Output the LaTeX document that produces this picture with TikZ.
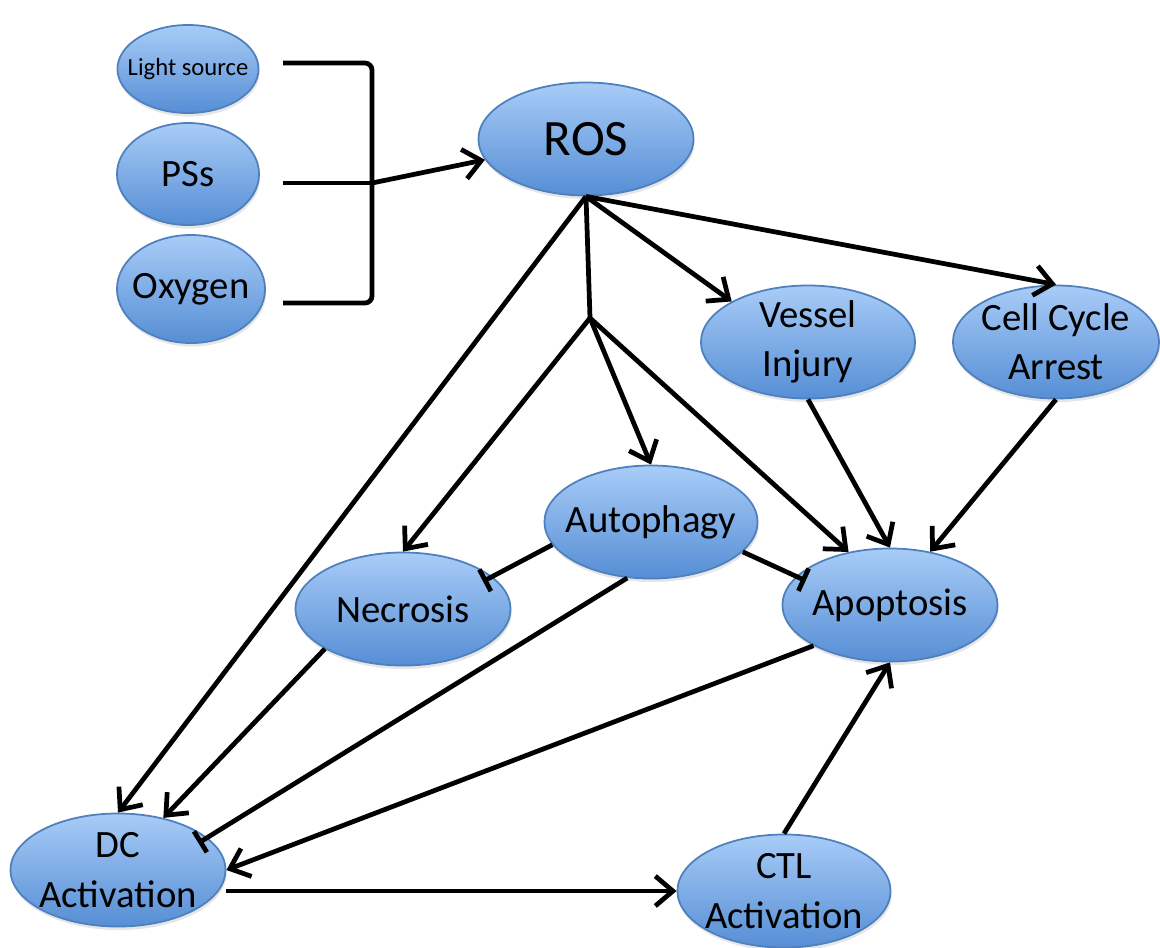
\documentclass[tikz,border=0pt]{standalone}
\usepackage{fontspec}
\setmainfont{Carlito}
\usetikzlibrary{shapes, arrows.meta, shadows}

\definecolor{bubbletop}{RGB}{168,204,247}
\definecolor{bubblebot}{RGB}{86,142,213}
\definecolor{bubbleline}{RGB}{78,128,190}

\begin{document}
\begin{tikzpicture}[
        x=0.01cm, y=-0.01cm,
        bubble/.style={ellipse, draw=bubbleline, line width=0.5pt,
            top color=bubbletop, bottom color=bubblebot, inner sep=0pt,
            minimum width=2.15cm, minimum height=1.13cm,
            drop shadow={opacity=0.2, shadow xshift=0.3pt, shadow yshift=-1pt}},
        every label/.style={font=\fontsize{11}{14}\selectfont, align=center, inner sep=0pt},
        link/.style={line width=1.35pt},
        act/.style={link, -{Straight Barb[length=5pt, width=8.5pt]}},
        inh/.style={link, -{Bar[width=7pt]}, shorten >=-3pt}
    ]
        \useasboundingbox (0,0) rectangle (1160,947);

        \node[bubble, minimum width=1.41cm, minimum height=0.88cm,
            label={[font=\fontsize{7}{8}\selectfont]center:Light source}] (light) at (188,69) {};
        \node[bubble, minimum width=1.42cm, minimum height=1.02cm, label=center:PSs] (pss) at (188,174) {};
        \node[bubble, minimum width=1.48cm, minimum height=1.08cm, label=center:Oxygen] (oxygen) at (191,289) {};
        \node[bubble, label={[font=\fontsize{14.5}{17}\selectfont]center:ROS}] (ros) at (586,139) {};
        \node[bubble, minimum width=2.14cm, label={center:Vessel\\Injury}] (vessel) at (808,342) {};
        \node[bubble, minimum width=2.06cm, label={center:Cell Cycle\\Arrest}] (cycle) at (1056,342) {};
        \node[bubble, minimum width=2.13cm, label=center:Autophagy] (autophagy) at (651,522) {};
        \node[bubble, label=center:Necrosis] (necrosis) at (403,609) {};
        \node[bubble, label=center:Apoptosis] (apoptosis) at (890,605) {};
        \node[bubble, label={center:DC\\Activation}] (dc) at (118,870) {};
        \node[bubble, minimum width=2.13cm, label={center:CTL\\Activation}] (ctl) at (784,891) {};

        \coordinate (in1) at (283,63);
        \coordinate (in2) at (283,183);
        \coordinate (in3) at (283,303);
        \coordinate (join) at (372,183);
        \coordinate (split) at (590,318);

        \draw[link, rounded corners=2pt] (in1) -- (join |- in1) -- (join |- in3) -- (in3);
        \draw[link] (in2) -- (join);
        \draw[act] (join) -- (ros);

        \draw[act] (ros.south) -- (dc.north);
        \draw[link] (ros.south) -- (split);
        \draw[act] (ros.south) -- (vessel.152);
        \draw[act] (ros.south) -- (cycle.north);
        \draw[act] (split) -- (necrosis.north);
        \draw[act] (split) -- (autophagy.north);
        \draw[act] (split) -- (apoptosis.128);
        \draw[act] (vessel.south) -- (apoptosis.north);
        \draw[act] (cycle.south) -- (apoptosis.53);

        \draw[inh] (autophagy.193) -- (necrosis.20);
        \draw[inh] (autophagy.342) -- (apoptosis.163);
        \draw[inh] (autophagy.247) -- (dc.20);

        \draw[act] (necrosis.207) -- (dc.49);
        \draw[act] (apoptosis.208) -- (dc.east);
        \draw[act] (ctl.north) -- (apoptosis.south);
        \draw[act] (dc.east |- ctl.west) -- (ctl.west);
\end{tikzpicture}
\end{document}
